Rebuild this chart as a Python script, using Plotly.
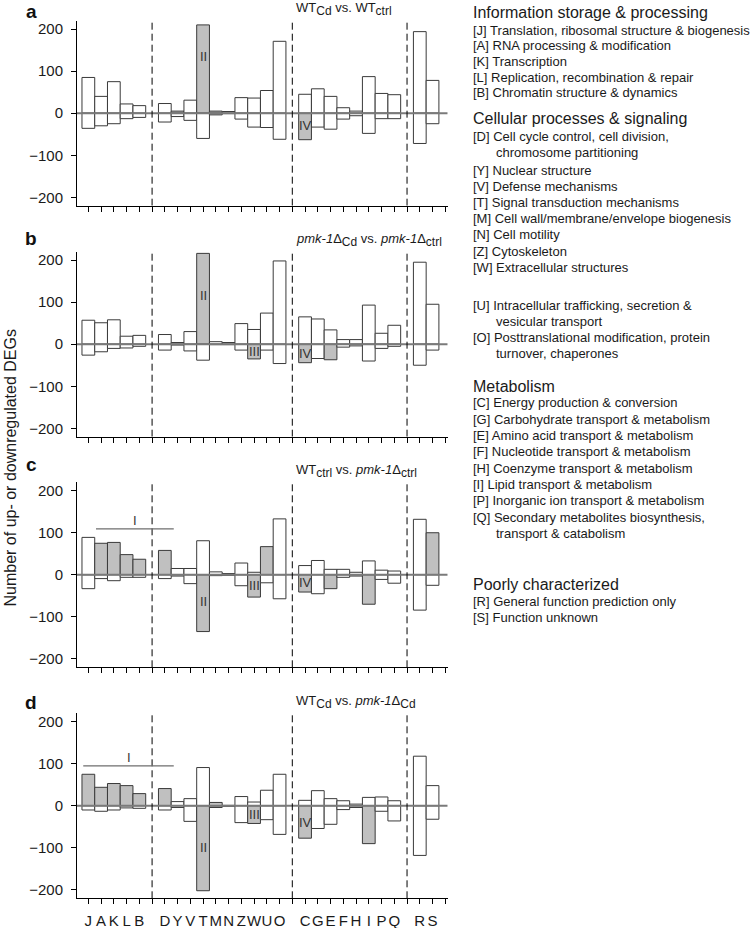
import plotly.graph_objects as go

# ---------------- data ----------------
groups = [["J", "A", "K", "L", "B"],
          ["D", "Y", "V", "T", "M", "N", "Z", "W", "U", "O"],
          ["C", "G", "E", "F", "H", "I", "P", "Q"],
          ["R", "S"]]
categories = [c for g in groups for c in g]

up_a = [85, 40, 75, 22, 18, 23, 5, 31, 210, 5, 4, 37, 36, 54, 171, 45, 58, 40, 13, 5, 87, 47, 44, 194, 78]
down_a = [-36, -30, -25, -13, -10, -21, -8, -17, -60, -4, -1, -14, -33, -34, -62, -63, -33, -38, -14, -6, -48, -13, -13, -72, -25]

up_b = [57, 51, 58, 19, 21, 23, 4, 30, 216, 6, 4, 49, 35, 74, 198, 65, 60, 34, 11, 11, 93, 26, 45, 195, 95]
down_b = [-26, -18, -10, -9, -5, -14, -2, -16, -38, -1, -1, -14, -35, -14, -46, -44, -34, -37, -7, -4, -40, -10, -5, -50, -14]

up_c = [89, 75, 77, 48, 37, 58, 15, 15, 81, 7, 3, 28, 6, 67, 133, 22, 34, 13, 13, 6, 33, 11, 9, 132, 100]
down_c = [-33, -9, -14, -6, -6, -9, -3, -21, -135, -2, -1, -26, -53, -19, -57, -41, -45, -33, -6, -3, -70, -11, -20, -84, -25]

up_d = [75, 44, 53, 48, 29, 41, 10, 17, 91, 8, 1, 22, 9, 37, 75, 13, 36, 17, 12, 4, 20, 21, 12, 118, 48]
down_d = [-10, -13, -10, -5, -6, -10, -4, -37, -202, -4, -1, -40, -42, -33, -68, -77, -54, -44, -9, -4, -90, -13, -36, -118, -32]

up_grey_a = ["T", "M", "Y"]
down_grey_a = ["C", "M"]
up_grey_b = ["T"]
down_grey_b = ["W", "C", "E"]
up_grey_c = ["A", "K", "L", "B", "D", "U", "S"]
down_grey_c = ["T", "W", "C", "E", "I"]
up_grey_d = ["J", "A", "K", "L", "B", "D", "M"]
down_grey_d = ["T", "W", "C", "I", "M"]


def sub(s):
    return f"<sub><span style='font-size:12px'>{s}</span></sub>"


titles = ["WT" + sub("Cd") + " vs. WT" + sub("ctrl"),
          "<i>pmk-1</i>Δ" + sub("Cd") + " vs. <i>pmk-1</i>Δ" + sub("ctrl"),
          "WT" + sub("ctrl") + " vs. <i>pmk-1</i>Δ" + sub("ctrl"),
          "WT" + sub("Cd") + " vs. <i>pmk-1</i>Δ" + sub("Cd")]
panel_letters = ["a", "b", "c", "d"]

# roman labels: (text, category, value)
labels_a = [("II", "T", 134), ("IV", "C", -29)]
labels_b = [("II", "T", 115), ("III", "W", -18), ("IV", "C", -21)]
labels_c = [("II", "T", -64), ("III", "W", -26), ("IV", "C", -19)]
labels_d = [("II", "T", -99), ("III", "W", -21), ("IV", "C", -40)]

# bracket "I" in panels c and d: (start cat, end cat, line value, label value)
bracket_c = ("A", "D", 109, 128)
bracket_d = ("J", "D", 95, 114)

y_ticks = [-200, -100, 0, 100, 200]

legend_lines = [
    ("h", "Information storage & processing"),
    ("i", "[J] Translation, ribosomal structure & biogenesis"),
    ("i", "[A] RNA processing & modification"),
    ("i", "[K] Transcription"),
    ("i", "[L] Replication, recombination & repair"),
    ("i", "[B] Chromatin structure & dynamics"),
    ("h", "Cellular processes & signaling"),
    ("i", "[D] Cell cycle control, cell division,"),
    ("c", "chromosome partitioning"),
    ("i", "[Y] Nuclear structure"),
    ("i", "[V] Defense mechanisms"),
    ("i", "[T] Signal transduction mechanisms"),
    ("i", "[M] Cell wall/membrane/envelope biogenesis"),
    ("i", "[N] Cell motility"),
    ("i", "[Z] Cytoskeleton"),
    ("i", "[W] Extracellular structures"),
    ("i", "[U] Intracellular trafficking, secretion &"),
    ("c", "vesicular transport"),
    ("i", "[O] Posttranslational modification, protein"),
    ("c", "turnover, chaperones"),
    ("h", "Metabolism"),
    ("i", "[C] Energy production & conversion"),
    ("i", "[G] Carbohydrate transport & metabolism"),
    ("i", "[E] Amino acid transport & metabolism"),
    ("i", "[F] Nucleotide transport & metabolism"),
    ("i", "[H] Coenzyme transport & metabolism"),
    ("i", "[I] Lipid transport & metabolism"),
    ("i", "[P] Inorganic ion transport & metabolism"),
    ("i", "[Q] Secondary metabolites biosynthesis,"),
    ("c", "transport & catabolism"),
    ("h", "Poorly characterized"),
    ("i", "[R] General function prediction only"),
    ("i", "[S] Function unknown"),
]
legend_y_px = [12, 30, 45.8, 61.5, 77.2, 92.8, 118, 136.5, 152.3, 170, 186.2, 202.4, 218.6,
               234.8, 251, 267.2, 305.5, 321.7, 337.5, 353.3, 386.7, 403, 419.3, 435.6,
               451.9, 468.2, 484.5, 500.8, 517.1, 533, 584.5, 601.7, 617.5]

# ---------------- layout helpers ----------------
W, H = 753, 928
FONT = "Liberation Sans, Arial, sans-serif"
GREY = "#c0c0c0"
EDGE = "#3a3a3a"

# slot positions from the groups (one blank slot between groups)
slot = {}
dividers = []
p = 1
for gi, g in enumerate(groups):
    for c in g:
        slot[c] = p
        p += 1
    if gi < len(groups) - 1:
        dividers.append(p)
        p += 1
last_tick = p
x_range = [0.11, last_tick + 0.19]
tickvals = list(range(1, last_tick + 1))
ticktext = [next((c for c in categories if slot[c] == t), " ") for t in tickvals]
xs = [slot[c] for c in categories]

panel_tops = [20.7, 251.7, 482.3, 713.3]
letter_y_px = [11.5, 239, 464, 702]
panel_h = 185.0
x_dom = [77 / W, 447.7 / W]

panels = [
    (up_a, down_a, up_grey_a, down_grey_a, labels_a, None),
    (up_b, down_b, up_grey_b, down_grey_b, labels_b, None),
    (up_c, down_c, up_grey_c, down_grey_c, labels_c, bracket_c),
    (up_d, down_d, up_grey_d, down_grey_d, labels_d, bracket_d),
]

fig = go.Figure()
layout = dict(width=W, height=H, margin=dict(l=0, r=0, t=0, b=0),
              paper_bgcolor="white", plot_bgcolor="white", showlegend=False,
              barmode="overlay", font=dict(family=FONT, color="#1a1a1a"))
annotations = []
shapes = []

for i, (up, down, ug, dg, labs, br) in enumerate(panels):
    n = i + 1
    xa = "x" if n == 1 else f"x{n}"
    ya = "y" if n == 1 else f"y{n}"
    top = panel_tops[i]
    y0 = 1 - (top + panel_h) / H
    y1 = 1 - top / H
    for vals, grey in ((up, ug), (down, dg)):
        fig.add_trace(go.Bar(
            x=xs, y=vals, width=1.0, xaxis=xa, yaxis=ya,
            marker=dict(color=[GREY if c in grey else "white" for c in categories],
                        line=dict(color=EDGE, width=1)),
            hoverinfo="skip"))
    layout["xaxis" if n == 1 else f"xaxis{n}"] = dict(
        domain=x_dom, anchor=ya, range=x_range, tickmode="array",
        tickvals=tickvals, ticktext=ticktext, showticklabels=(n == 4), tickangle=0,
        ticks="outside", ticklen=5, tickwidth=1, tickcolor="black",
        showline=True, linecolor="black", linewidth=1, showgrid=False,
        zeroline=False, ticklabelstandoff=4,
        tickfont=dict(size=15, family=FONT, color="#1a1a1a"))
    layout["yaxis" if n == 1 else f"yaxis{n}"] = dict(
        domain=[y0, y1], anchor=xa, range=[-220, 220], tickmode="array",
        tickvals=y_ticks, ticks="outside", ticklen=5, tickwidth=1, tickcolor="black",
        showline=True, linecolor="black", linewidth=1, showgrid=False,
        zeroline=False, ticklabelstandoff=5,
        tickfont=dict(size=15, family=FONT, color="#1a1a1a"))
    # zero line
    shapes.append(dict(type="line", xref=xa, yref=ya, x0=x_range[0], x1=x_range[1],
                       y0=0, y1=0, line=dict(color="#7a7a7a", width=2), layer="above"))
    # dashed dividers
    for d in dividers:
        shapes.append(dict(type="line", xref=xa, yref=ya, x0=d, x1=d, y0=-220, y1=220,
                           line=dict(color="black", width=1, dash="7px,4px"), layer="above"))
    # roman labels
    for txt, cat, val in labs:
        annotations.append(dict(text=txt, x=slot[cat], y=val, xref=xa, yref=ya,
                                showarrow=False, font=dict(size=13, family=FONT, color="#333333")))
    if br:
        c0, c1, v, tv = br
        bx0, bx1 = slot[c0] - 0.4, slot[c1] + 0.7
        shapes.append(dict(type="line", xref=xa, yref=ya, x0=bx0, x1=bx1,
                           y0=v, y1=v, line=dict(color="#6e6e6e", width=1.3), layer="above"))
        annotations.append(dict(text="I", x=(bx0 + bx1) / 2, y=tv,
                                xref=xa, yref=ya, showarrow=False,
                                font=dict(size=13, family=FONT, color="#333333")))
    # panel letter
    annotations.append(dict(text=f"<b>{panel_letters[i]}</b>", x=31.5 / W,
                            y=1 - letter_y_px[i] / H, xref="paper", yref="paper",
                            showarrow=False, xanchor="center", yanchor="middle",
                            font=dict(size=19, family=FONT, color="#111111")))
    # comparison title
    annotations.append(dict(text=titles[i], x=294 / W, y=1 - (top - 11.5) / H,
                            xref="paper", yref="paper", showarrow=False,
                            xanchor="left", yanchor="middle",
                            font=dict(size=13, family=FONT, color="#1a1a1a")))

# y-axis title
annotations.append(dict(text="Number of up- or downregulated DEGs", x=9.5 / W, y=1 - 468 / H,
                        xref="paper", yref="paper", showarrow=False, textangle=-90,
                        xanchor="center", yanchor="middle",
                        font=dict(size=16, family=FONT, color="#1a1a1a")))

# category legend text on the right
for (kind, txt), ypx in zip(legend_lines, legend_y_px):
    xpx = 494 if kind == "c" else 470.5
    size = 16 if kind == "h" else 13
    annotations.append(dict(text=txt, x=xpx / W, y=1 - ypx / H, xref="paper", yref="paper",
                            showarrow=False, xanchor="left", yanchor="middle",
                            font=dict(size=size, family=FONT, color="#1a1a1a")))

layout["annotations"] = annotations
layout["shapes"] = shapes
fig.update_layout(**layout)

fig.write_html("out.html", config={"displayModeBar": False},
               post_script="document.body.style.margin='0px';document.body.style.overflow='hidden';")
